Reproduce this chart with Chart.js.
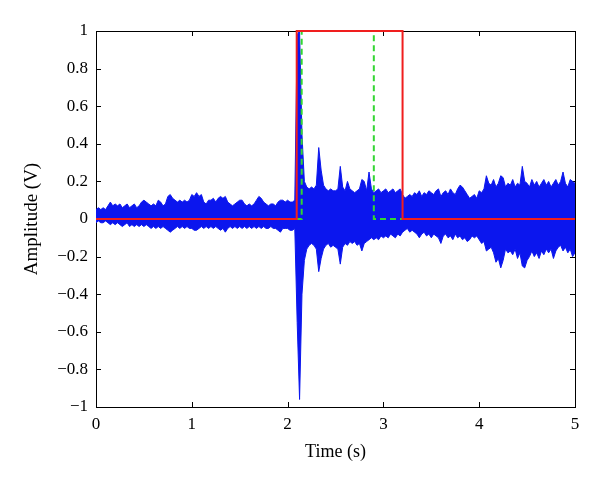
<!DOCTYPE html>
<html>
<head>
<meta charset="utf-8">
<script src="https://cdn.jsdelivr.net/npm/chart.js@4.4.1/dist/chart.umd.min.js"></script>
<style>
  body { margin: 0; background: #fff; }
  #wrap { width: 600px; height: 485px; }
</style>
</head>
<body>
<div id="wrap"><canvas id="signalChart" width="600" height="485"></canvas></div>
<script>
// sampling step of the envelope readings (s)
var dt = 0.025;

var upperEnv = [
    0.05,0.06,0.05,0.06,0.05,0.07,0.09,0.07,0.08,0.07,0.08,0.06,0.07,0.08,0.06,0.07,0.08,0.06,0.07,0.09,
    0.10,0.09,0.08,0.07,0.08,0.07,0.10,0.09,0.07,0.08,0.12,0.13,0.11,0.10,0.09,0.10,0.09,0.10,0.09,0.10,
    0.13,0.12,0.14,0.12,0.13,0.09,0.08,0.10,0.10,0.11,0.09,0.11,0.12,0.11,0.12,0.09,0.08,0.07,0.08,0.09,
    0.10,0.10,0.08,0.07,0.08,0.07,0.08,0.10,0.12,0.11,0.09,0.08,0.07,0.08,0.08,0.07,0.09,0.10,0.10,0.09,
    0.10,0.09,0.09,0.10,0.98,1.00,0.45,0.20,0.17,0.16,0.17,0.16,0.18,0.38,0.26,0.18,0.16,0.15,0.16,0.15,
    0.15,0.16,0.28,0.17,0.15,0.20,0.16,0.15,0.14,0.15,0.16,0.21,0.20,0.15,0.25,0.16,0.14,0.15,0.16,0.14,
    0.15,0.16,0.14,0.15,0.16,0.14,0.15,0.16,0.13,0.11,0.12,0.13,0.12,0.14,0.13,0.15,0.12,0.14,0.13,0.15,
    0.14,0.13,0.15,0.16,0.12,0.14,0.15,0.13,0.16,0.14,0.13,0.16,0.18,0.17,0.15,0.13,0.11,0.12,0.13,0.11,
    0.15,0.14,0.16,0.23,0.19,0.18,0.21,0.17,0.19,0.23,0.22,0.17,0.19,0.18,0.21,0.17,0.19,0.18,0.28,0.20,
    0.19,0.17,0.21,0.18,0.20,0.17,0.19,0.21,0.18,0.20,0.17,0.19,0.21,0.18,0.20,0.25,0.19,0.17,0.21,0.20,
    0.19
];
var lowerEnv = [
    -0.02,-0.01,-0.02,-0.02,-0.01,-0.02,-0.03,-0.02,-0.03,-0.02,-0.03,-0.04,-0.03,-0.02,-0.04,-0.03,-0.04,-0.03,-0.04,-0.03,
    -0.04,-0.03,-0.04,-0.05,-0.04,-0.05,-0.04,-0.05,-0.04,-0.05,-0.06,-0.07,-0.06,-0.05,-0.04,-0.05,-0.04,-0.05,-0.04,-0.05,
    -0.05,-0.06,-0.06,-0.05,-0.04,-0.05,-0.04,-0.05,-0.04,-0.05,-0.04,-0.05,-0.06,-0.05,-0.07,-0.05,-0.04,-0.05,-0.04,-0.05,
    -0.04,-0.05,-0.04,-0.05,-0.04,-0.05,-0.04,-0.05,-0.04,-0.05,-0.04,-0.05,-0.05,-0.04,-0.05,-0.05,-0.06,-0.07,-0.05,-0.05,
    -0.05,-0.06,-0.06,-0.05,-0.55,-0.96,-0.40,-0.22,-0.16,-0.14,-0.13,-0.14,-0.16,-0.28,-0.21,-0.16,-0.14,-0.13,-0.15,-0.14,
    -0.15,-0.16,-0.24,-0.15,-0.13,-0.14,-0.12,-0.13,-0.12,-0.14,-0.13,-0.17,-0.13,-0.12,-0.11,-0.10,-0.11,-0.10,-0.11,-0.09,
    -0.10,-0.09,-0.10,-0.08,-0.09,-0.10,-0.08,-0.09,-0.07,-0.06,-0.05,-0.07,-0.06,-0.07,-0.08,-0.10,-0.08,-0.07,-0.09,-0.08,
    -0.10,-0.08,-0.09,-0.10,-0.13,-0.09,-0.08,-0.10,-0.09,-0.11,-0.08,-0.10,-0.09,-0.11,-0.10,-0.12,-0.11,-0.09,-0.10,-0.09,
    -0.11,-0.13,-0.12,-0.17,-0.16,-0.15,-0.18,-0.23,-0.21,-0.26,-0.22,-0.16,-0.18,-0.17,-0.19,-0.16,-0.21,-0.18,-0.25,-0.26,
    -0.22,-0.20,-0.17,-0.20,-0.18,-0.21,-0.17,-0.19,-0.16,-0.18,-0.16,-0.21,-0.17,-0.15,-0.14,-0.17,-0.15,-0.18,-0.16,-0.20,
    -0.18
];

// red detection window (solid) and green window (dashed)
var redTimes = [0, 2.095, 2.095, 3.2, 3.2, 5];
var redValues = [0, 0, 1, 1, 0, 0];
var greenTimes = [0, 2.147, 2.147, 2.9, 2.9, 5];
var greenValues = [0, 0, 1, 1, 0, 0];

var xTicks = [0, 1, 2, 3, 4, 5];
var yTicks = [-1, -0.8, -0.6, -0.4, -0.2, 0, 0.2, 0.4, 0.6, 0.8, 1];

function toPoints(xs, ys) {
    return xs.map((x, i) => ({ x: x, y: ys[i] }));
}

var blue = '#0b16ee';
var serif = "'Liberation Serif', 'DejaVu Serif', serif";

// box around the plot plus inward tick marks on all four sides
var boxPlugin = {
    id: 'boxPlugin',
    beforeDatasetsDraw: function(chart) {
        var ctx = chart.ctx;
        var a = chart.chartArea;
        var xs = chart.scales.x, ys = chart.scales.y;
        var len = 5;
        ctx.save();
        ctx.strokeStyle = '#000';
        ctx.lineWidth = 1;
        ctx.beginPath();
        xTicks.forEach(function(v) {
            var px = Math.round(xs.getPixelForValue(v)) + 0.5;
            ctx.moveTo(px, a.bottom); ctx.lineTo(px, a.bottom - len);
            ctx.moveTo(px, a.top); ctx.lineTo(px, a.top + len);
        });
        yTicks.forEach(function(v) {
            var py = Math.round(ys.getPixelForValue(v)) + 0.5;
            ctx.moveTo(a.left, py); ctx.lineTo(a.left + len, py);
            ctx.moveTo(a.right, py); ctx.lineTo(a.right - len, py);
        });
        ctx.stroke();
        ctx.strokeRect(Math.round(a.left) + 0.5, Math.round(a.top) + 0.5,
            Math.round(a.right - a.left), Math.round(a.bottom - a.top));
        ctx.restore();
    }
};

var ctx = document.getElementById('signalChart').getContext('2d');
new Chart(ctx, {
    type: 'line',
    data: {
        datasets: [
            {
                label: 'red',
                data: toPoints(redTimes, redValues),
                borderColor: '#f01e1e',
                borderWidth: 2,
                pointRadius: 0,
                fill: false,
                tension: 0,
                clip: 4,
                order: 0
            },
            {
                label: 'green',
                data: toPoints(greenTimes, greenValues),
                borderColor: '#33d633',
                borderWidth: 2,
                borderDash: [6, 4],
                pointRadius: 0,
                fill: false,
                tension: 0,
                clip: 4,
                order: 1
            },
            {
                label: 'upper',
                data: upperEnv.map((v, i) => ({ x: i * dt, y: v })),
                borderColor: blue,
                backgroundColor: blue,
                borderWidth: 1,
                pointRadius: 0,
                fill: '+1',
                tension: 0,
                order: 2
            },
            {
                label: 'lower',
                data: lowerEnv.map((v, i) => ({ x: i * dt, y: v })),
                borderColor: blue,
                borderWidth: 1,
                pointRadius: 0,
                fill: false,
                tension: 0,
                order: 3
            }
        ]
    },
    options: {
        responsive: false,
        animation: false,
        layout: { padding: { top: 31, right: 25, left: 0, bottom: 0 } },
        plugins: {
            legend: { display: false },
            tooltip: { enabled: false }
        },
        scales: {
            x: {
                type: 'linear',
                min: 0,
                max: 5,
                afterBuildTicks: function(scale) {
                    scale.ticks = xTicks.map(v => ({ value: v }));
                },
                afterFit: function(scale) { scale.height = 78; },
                grid: { display: false, drawTicks: false },
                border: { display: false },
                ticks: {
                    padding: 7,
                    color: '#000',
                    font: { family: serif, size: 17 },
                    callback: function(v) { return String(v); }
                },
                title: {
                    display: true,
                    text: 'Time (s)',
                    color: '#000',
                    font: { family: serif, size: 18 },
                    padding: { top: 4, bottom: 22 }
                }
            },
            y: {
                min: -1,
                max: 1,
                afterBuildTicks: function(scale) {
                    scale.ticks = yTicks.map(v => ({ value: v }));
                },
                afterFit: function(scale) { scale.width = 96; },
                grid: { display: false, drawTicks: false },
                border: { display: false },
                ticks: {
                    padding: 8,
                    color: '#000',
                    font: { family: serif, size: 17 },
                    callback: function(v) {
                        var s = String(Math.round(v * 10) / 10);
                        return s.replace('-', '\u2212');
                    }
                },
                title: {
                    display: true,
                    text: 'Amplitude (V)',
                    color: '#000',
                    font: { family: serif, size: 19 },
                    padding: { top: 21, bottom: 0 }
                }
            }
        }
    },
    plugins: [boxPlugin]
});
</script>
</body>
</html>
